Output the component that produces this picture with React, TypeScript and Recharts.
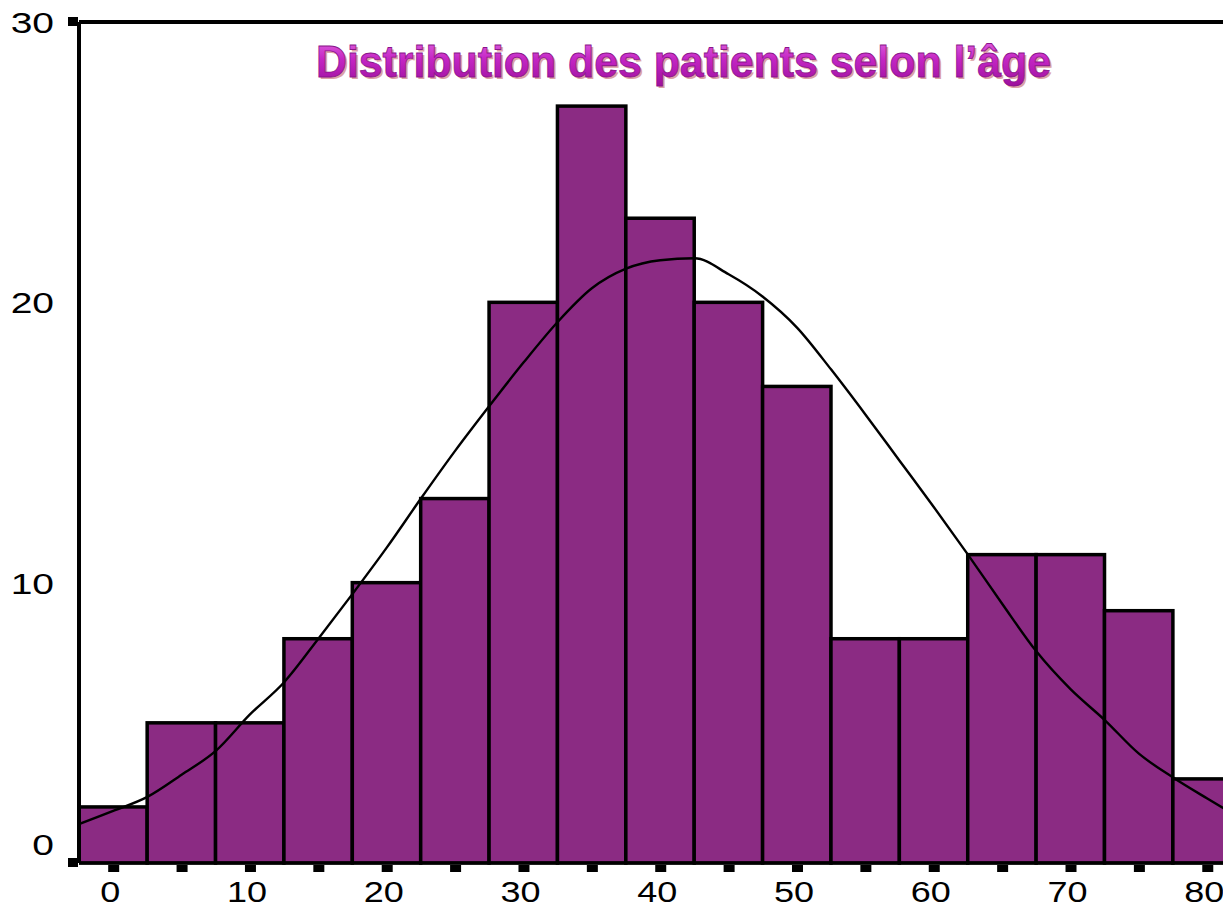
import React from "react";
import {
  ComposedChart,
  Bar,
  Line,
  XAxis,
  YAxis,
  ReferenceLine,
} from "recharts";

// histogram: age class centres (width 5) and patient counts
const ageCenters = [0, 5, 10, 15, 20, 25, 30, 35, 40, 45, 50, 55, 60, 65, 70, 75, 80];
const patientCounts = [2, 5, 5, 8, 10, 13, 20, 27, 23, 20, 17, 8, 8, 11, 11, 9, 3];

// normal curve
const curveAges = [
  -2.5, 0, 2.5, 5, 7.5, 10, 12.5, 15, 17.5, 20, 22.5, 25, 27.5, 30, 32.5, 35, 37.5, 40,
  42.5, 45, 47.5, 50, 52.5, 55, 57.5, 60, 62.5, 65, 67.5, 70, 72.5, 75, 77.5, 80, 81.2,
];
const curveValues = [
  1.39, 1.86, 2.36, 3.15, 4.0, 5.3, 6.45, 8.0, 9.6, 11.25, 13.0, 14.7, 16.3, 17.85, 19.3,
  20.5, 21.2, 21.5, 21.57, 21.0, 20.2, 19.1, 17.6, 16.0, 14.35, 12.7, 11.0, 9.25, 7.55, 6.2,
  5.1, 3.9, 3.05, 2.3, 1.95,
];

const xTicks = [0, 5, 10, 15, 20, 25, 30, 35, 40, 45, 50, 55, 60, 65, 70, 75, 80];
const yTicks = [0, 10, 20, 30];
const title = "Distribution des patients selon l\u2019âge";

const barData = ageCenters.map((age, i) => ({ age, count: patientCounts[i] }));
const curveData = curveAges.map((age, i) => ({ age, fit: curveValues[i] }));

const FONT = "'Liberation Sans', Arial, sans-serif";
const BIN_PX = 68.4; // 5 years on the x scale

// bars on a numeric axis come out thin, so widen them around their centre
const HistBar = (props: any) => {
  const { x, y, width, height } = props;
  const cx = x + width / 2;
  return (
    <rect
      x={cx - BIN_PX / 2}
      y={y}
      width={BIN_PX}
      height={height}
      fill="#8B2B83"
      stroke="#000"
      strokeWidth={3.5}
    />
  );
};

const XTick = (props: any) => {
  const { x, y, payload } = props;
  return (
    <g>
      <rect x={x - 5} y={y + 2} width={11} height={7} fill="#000" />
      {payload.value % 10 === 0 && (
        <text
          transform={`translate(${x - 3},${y + 39}) scale(1.2,1)`}
          textAnchor="middle"
          fontSize={30}
          fontFamily={FONT}
          fill="#000"
        >
          {payload.value}
        </text>
      )}
    </g>
  );
};

const YTick = (props: any) => {
  const { x, y, payload } = props;
  const v = payload.value;
  const dy = v === 0 ? -8 : 11;
  return (
    <g>
      {(v === 0 || v === 30) && <rect x={x - 11} y={y - 5} width={10} height={9} fill="#000" />}
      <text
        transform={`translate(${x - 25},${y + dy}) scale(1.3,1)`}
        textAnchor="end"
        fontSize={30}
        fontFamily={FONT}
        fill="#000"
      >
        {v}
      </text>
    </g>
  );
};

export default function App() {
  return (
    <div style={{ position: "absolute", left: 0, top: 0, width: 1223, height: 909, background: "#fff", overflow: "hidden" }}>
      <ComposedChart
        width={1223}
        height={909}
        data={barData}
        margin={{ top: 22, right: 0, bottom: 0, left: 0 }}
        barCategoryGap={0}
      >
        <XAxis
          dataKey="age"
          type="number"
          domain={[-2.5, 81.15]}
          allowDataOverflow
          ticks={xTicks}
          interval={0}
          height={46}
          tickSize={0}
          tickMargin={0}
          tickLine={false}
          axisLine={{ stroke: "#000", strokeWidth: 3 }}
          tick={<XTick />}
        />
        <YAxis
          type="number"
          domain={[0, 30]}
          ticks={yTicks}
          width={79}
          tickSize={0}
          tickMargin={0}
          tickLine={false}
          axisLine={{ stroke: "#000", strokeWidth: 4 }}
          tick={<YTick />}
        />
        <ReferenceLine y={30} stroke="#000" strokeWidth={4} />
        <Bar
          dataKey="count"
          shape={<HistBar />}
          isAnimationActive={false}
        />
        <Line
          data={curveData}
          dataKey="fit"
          type="monotone"
          stroke="#000"
          strokeWidth={2.4}
          dot={false}
          activeDot={false}
          isAnimationActive={false}
        />
      </ComposedChart>
      <svg
        width={1223}
        height={909}
        style={{ position: "absolute", left: 0, top: 0, pointerEvents: "none" }}
      >
        <defs>
          <linearGradient id="titleFill" x1="0" y1="0" x2="0" y2="1">
            <stop offset="0%" stopColor="#E46BE4" />
            <stop offset="45%" stopColor="#C426C4" />
            <stop offset="100%" stopColor="#9C0F9C" />
          </linearGradient>
        </defs>
        <text
          x={318}
          y={79}
          fontSize={45}
          fontWeight="bold"
          fontFamily="'Liberation Sans Narrow', 'Liberation Sans', Arial, sans-serif"
          textLength={735}
          lengthAdjust="spacingAndGlyphs"
          fill="#DDA2A6"
        >
          {title}
        </text>
        <text
          x={316}
          y={77}
          fontSize={45}
          fontWeight="bold"
          fontFamily="'Liberation Sans Narrow', 'Liberation Sans', Arial, sans-serif"
          textLength={735}
          lengthAdjust="spacingAndGlyphs"
          fill="url(#titleFill)"
          stroke="#8A168A"
          strokeWidth={0.8}
        >
          {title}
        </text>
      </svg>
    </div>
  );
}
